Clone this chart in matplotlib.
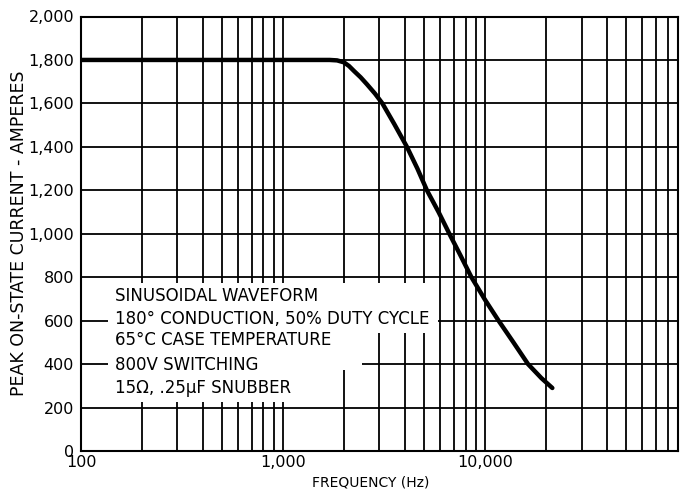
import matplotlib
matplotlib.use("Agg")
import matplotlib.pyplot as plt
from matplotlib.patches import Rectangle
from matplotlib.ticker import FixedLocator, LogLocator, NullFormatter

# ---- data ----
freq_hz = [100, 1000, 1700, 1850, 2000, 2120, 2250, 2420, 2600, 2850, 3100, 3550, 4100,
           4620, 5150, 5880, 6650, 7550, 8550, 10000, 11650, 13800, 16300, 19000, 21500]
current_a = [1800, 1800, 1800, 1798, 1789, 1772, 1748, 1720, 1688, 1645, 1600, 1505, 1400,
             1300, 1200, 1100, 1000, 900, 800, 695, 600, 500, 400, 335, 290]
y_ticks = [0, 200, 400, 600, 800, 1000, 1200, 1400, 1600, 1800, 2000]
y_tick_labels = ["0", "200", "400", "600", "800", "1,000", "1,200", "1,400", "1,600", "1,800", "2,000"]
x_ticks = [100, 1000, 10000]
x_tick_labels = ["100", "1,000", "10,000"]
note_lines = [
    "SINUSOIDAL WAVEFORM",
    "180° CONDUCTION, 50% DUTY CYCLE",
    "65°C CASE TEMPERATURE",
    "800V SWITCHING",
    "15Ω, .25μF SNUBBER",
]
x_label = "FREQUENCY (Hz)"
y_label = "PEAK ON-STATE CURRENT - AMPERES"

W, H = 680, 491
fig = plt.figure(figsize=(W / 100, H / 100), dpi=100)
L, R, T, B = 81, 678, 16.5, 451
ax = fig.add_axes([L / W, (H - B) / H, (R - L) / W, (B - T) / H])

ax.set_xscale("log")
ax.set_xlim(100, 90000)
ax.set_ylim(0, 2000)

ax.xaxis.set_major_locator(FixedLocator(x_ticks))
ax.set_xticklabels(x_tick_labels)
ax.xaxis.set_minor_locator(LogLocator(base=10, subs=range(2, 10), numticks=20))
ax.xaxis.set_minor_formatter(NullFormatter())
ax.set_yticks(y_ticks)
ax.set_yticklabels(y_tick_labels)

ax.grid(True, which="major", axis="both", color="black", linewidth=1.3)
ax.grid(True, which="minor", axis="x", color="black", linewidth=1.3)
ax.tick_params(which="both", length=0, labelsize=11.5)
ax.tick_params(axis="y", pad=5)
ax.tick_params(axis="x", pad=3)
for s in ax.spines.values():
    s.set_linewidth(1.5)
    s.set_color("black")

# white areas masking the grid behind the notes
def px_rect(x0, y0, x1, y1):
    return Rectangle(((x0 - L) / (R - L), (B - y1) / (B - T)),
                     (x1 - x0) / (R - L), (y1 - y0) / (B - T),
                     transform=ax.transAxes, facecolor="white", edgecolor="none", zorder=2.5)

ax.add_patch(px_rect(108, 283, 438, 333))
ax.add_patch(px_rect(108, 333, 343, 402))
ax.add_patch(px_rect(343, 333, 362, 370))

ax.plot(freq_hz, current_a, color="black", linewidth=3.2, solid_capstyle="round",
        solid_joinstyle="round", zorder=3)

line_centers = [296, 318.5, 340, 365, 388]
for txt, yc in zip(note_lines, line_centers):
    ax.text((115 - L) / (R - L), (B - yc) / (B - T), txt, transform=ax.transAxes,
            fontsize=12, ha="left", va="center", zorder=4, color="black")

ax.set_xlabel(x_label, fontsize=10)
ax.xaxis.set_label_coords((371 - L) / (R - L), -(476 - B) / (B - T))
ax.set_ylabel(y_label, fontsize=12.5)
ax.yaxis.set_label_coords(-(81 - 28) / (R - L), 0.5)

fig.savefig("out.png", dpi=100)
